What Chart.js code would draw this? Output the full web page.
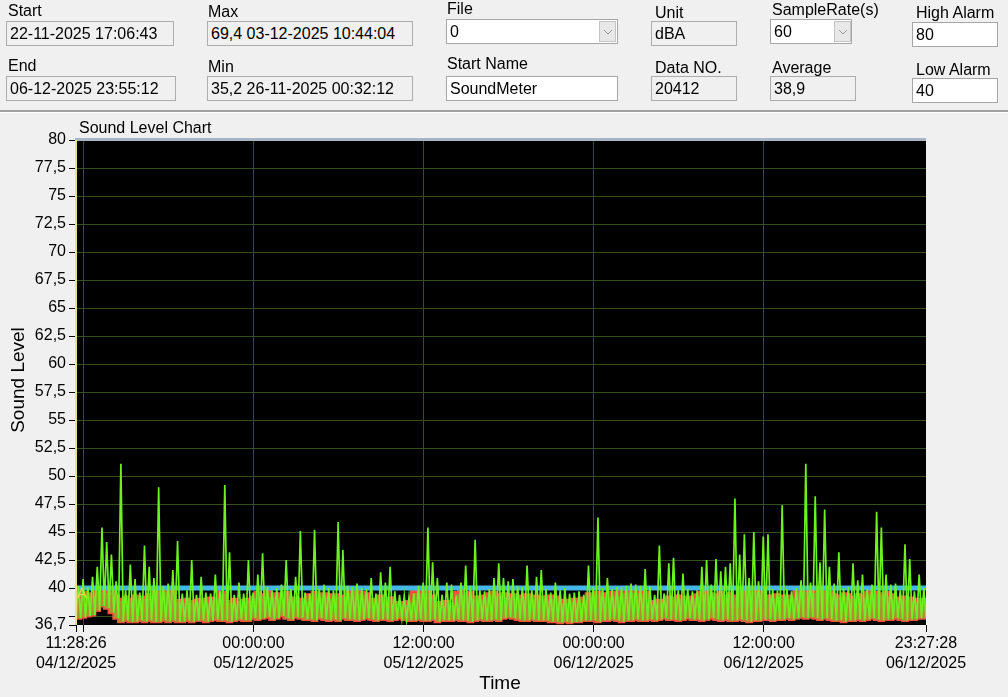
<!DOCTYPE html>
<html><head><meta charset="utf-8">
<script src="https://cdn.jsdelivr.net/npm/chart.js@4.4.1/dist/chart.umd.min.js"></script>
<style>
html,body{margin:0;padding:0;background:#f0f0f0;width:1008px;height:697px;overflow:hidden;font-family:"Liberation Sans",Arial,sans-serif;}
canvas{position:absolute;left:0;top:0;}
.lbl{position:absolute;font-size:16px;line-height:16px;color:#000;white-space:nowrap;}
.box{position:absolute;box-sizing:border-box;border:1px solid #adadad;background:#f0f0f0;font-size:16px;line-height:23px;padding-left:3px;white-space:nowrap;color:#000;overflow:hidden;}
.white{background:#fff;border-color:#a6a6a6;}
.btn{position:absolute;box-sizing:border-box;background:#e8e8e8;border:1px solid #c4c4c4;}
.btn svg{position:absolute;left:3px;top:6px;}
#sep{position:absolute;left:0;top:110px;width:1008px;height:2px;background:#a0a0a0;border-bottom:1px solid #fff;}
</style></head>
<body>
<canvas id="c" width="1008" height="697"></canvas>

<div class="lbl" style="left:8px;top:3px">Start</div>
<div class="box" style="left:6px;top:21px;width:168px;height:25px">22-11-2025 17:06:43</div>
<div class="lbl" style="left:8px;top:58px">End</div>
<div class="box" style="left:6px;top:76px;width:170px;height:25px">06-12-2025 23:55:12</div>

<div class="lbl" style="left:208px;top:4px">Max</div>
<div class="box" style="left:207px;top:21px;width:206px;height:25px">69,4 03-12-2025 10:44:04</div>
<div class="lbl" style="left:208px;top:59px">Min</div>
<div class="box" style="left:207px;top:76px;width:206px;height:25px">35,2 26-11-2025 00:32:12</div>

<div class="lbl" style="left:447px;top:1px">File</div>
<div class="box white" style="left:446px;top:19px;width:172px;height:25px">0</div>
<div class="btn" style="left:599px;top:21px;width:17px;height:21px"><svg width="10" height="8"><polyline points="1,2 5,6 9,2" fill="none" stroke="#9a9a9a" stroke-width="1"/></svg></div>
<div class="lbl" style="left:447px;top:56px">Start Name</div>
<div class="box white" style="left:446px;top:76px;width:172px;height:25px">SoundMeter</div>

<div class="lbl" style="left:655px;top:5px">Unit</div>
<div class="box" style="left:651px;top:21px;width:86px;height:25px">dBA</div>
<div class="lbl" style="left:655px;top:60px">Data NO.</div>
<div class="box" style="left:651px;top:76px;width:86px;height:25px">20412</div>

<div class="lbl" style="left:772px;top:2px">SampleRate(s)</div>
<div class="box white" style="left:770px;top:19px;width:82px;height:25px">60</div>
<div class="btn" style="left:834px;top:21px;width:17px;height:21px"><svg width="10" height="8"><polyline points="1,2 5,6 9,2" fill="none" stroke="#9a9a9a" stroke-width="1"/></svg></div>
<div class="lbl" style="left:772px;top:60px">Average</div>
<div class="box" style="left:770px;top:76px;width:86px;height:25px">38,9</div>

<div class="lbl" style="left:916px;top:5px">High Alarm</div>
<div class="box white" style="left:912px;top:22px;width:86px;height:25px">80</div>
<div class="lbl" style="left:916px;top:62px">Low Alarm</div>
<div class="box white" style="left:912px;top:78px;width:86px;height:25px">40</div>

<div id="sep"></div>

<script>
// ---- data (20-minute bins, starting 04/12/2025 11:28:26) ----
const BIN_HOURS = 1/3;
const END_HOURS = 59.9839;           // 23:27:28 06/12/2025
const LOW_ALARM = 40;

// green peak level in each bin (dB)
const levelMax = [
 40.2,40.8,40.1,41.0,41.9,45.4,44.1,43.0,40.6,51.1,
 39.8,42.1,40.8,39.6,43.8,41.9,40.9,49.0,40.2,40.4,
 41.6,44.2,39.5,39.8,42.5,39.4,41.0,39.6,39.5,41.2,
 39.7,49.2,43.2,39.4,40.5,39.5,42.5,39.6,41.2,43.1,
 40.1,39.8,40.0,40.3,42.5,39.9,41.0,45.1,39.6,39.5,
 45.2,39.9,40.3,40.0,39.8,45.9,43.4,40.2,40.1,40.4,
 40.0,39.9,40.9,39.5,41.4,40.5,41.9,39.7,39.4,39.3,
 39.2,39.5,40.2,40.5,45.4,42.3,40.9,39.4,40.5,40.3,
 39.3,40.5,42.0,40.2,44.3,39.8,39.7,39.9,40.9,42.2,
 40.9,40.6,40.8,40.2,40.1,42.0,39.8,41.0,41.6,39.9,
 39.6,40.5,39.8,40.0,39.5,39.6,39.7,39.4,42.0,40.1,
 46.3,40.0,40.9,39.9,40.1,40.1,40.2,40.4,40.3,40.2,
 41.7,40.1,39.4,43.8,39.5,42.2,42.7,39.8,41.3,39.9,
 39.7,39.8,41.9,42.5,40.3,42.6,41.5,41.9,42.2,48.0,
 43.0,44.8,40.9,45.0,40.6,44.6,44.8,39.9,39.8,47.4,
 39.9,39.7,40.0,40.7,51.1,40.5,48.2,42.3,47.0,41.9,
 40.4,43.2,40.0,40.1,42.2,40.7,41.2,39.9,40.3,46.8,
 45.4,41.2,40.3,40.4,39.8,43.9,42.6,39.7,41.2,40.0
];
// upper edge of the dense band in each bin (dB)
const levelTop = [
 39.8,39.8,39.6,39.5,39.4,39.8,39.8,39.7,39.8,39.3,
 39.0,39.2,39.0,39.3,39.1,39.2,39.4,39.9,40.0,39.8,
 39.9,39.9,38.9,38.8,39.0,38.8,38.9,39.0,38.8,39.1,
 39.1,39.8,39.6,38.8,39.0,38.7,38.9,39.0,39.2,39.6,
 39.4,39.7,39.3,39.5,39.2,39.6,39.0,39.1,39.0,38.9,
 39.4,39.6,39.3,39.5,39.4,39.2,39.4,39.3,39.7,40.0,
 39.9,39.6,39.5,39.0,38.8,39.3,38.9,39.1,38.7,38.7,
 38.6,38.8,39.7,39.8,39.6,39.7,39.3,38.7,38.5,38.8,
 38.6,39.6,39.7,39.5,39.6,39.2,39.1,39.3,39.5,39.6,
 39.4,39.5,39.3,39.4,39.3,39.2,39.4,39.1,39.3,39.2,
 39.0,39.3,39.2,38.9,38.8,38.9,39.0,38.8,39.1,39.5,
 39.4,39.6,39.5,39.3,39.6,39.4,39.7,39.9,39.8,39.7,
 39.9,39.6,38.8,38.7,38.9,38.8,39.2,39.1,39.3,39.2,
 39.0,39.2,39.4,39.6,39.7,39.5,39.4,39.6,39.3,39.5,
 39.3,39.9,40.0,39.9,39.8,39.9,40.0,39.3,39.2,39.4,
 39.3,39.1,39.3,39.8,39.9,39.8,40.0,39.7,39.8,39.9,
 39.7,39.4,39.3,39.5,39.4,39.2,39.4,39.3,39.6,39.7,
 39.6,39.5,39.6,39.4,39.1,39.0,39.2,39.1,38.9,39.0
];
// lowest level in each bin (dB)
const levelMin = [
 37.4,37.3,37.4,37.5,37.6,38.0,38.4,38.2,37.8,37.3,
 37.0,37.1,37.0,37.0,37.1,37.0,37.1,37.0,37.0,37.1,
 37.0,37.1,37.0,37.0,37.1,37.0,37.1,37.1,37.0,37.1,
 37.2,37.1,37.1,37.0,37.1,37.2,37.1,37.1,37.3,37.2,
 37.3,37.4,37.2,37.3,37.5,37.3,37.2,37.4,37.3,37.2,
 37.2,37.1,37.3,37.2,37.1,37.2,37.1,37.3,37.2,37.2,
 37.1,37.2,37.3,37.2,37.1,37.2,37.2,37.1,37.2,37.3,
 37.2,37.1,37.1,37.2,37.1,37.1,37.2,37.0,37.1,37.1,
 37.1,37.2,37.1,37.1,37.0,37.1,37.2,37.1,37.1,37.2,
 37.1,37.3,37.4,37.3,37.2,37.1,37.1,37.2,37.1,37.1,
 37.1,37.0,37.0,36.9,37.0,36.9,37.0,37.0,37.1,37.1,
 37.1,37.0,37.1,37.1,37.2,37.1,37.0,37.1,37.1,37.2,
 37.1,37.1,37.2,37.1,37.2,37.3,37.2,37.2,37.1,37.2,
 37.3,37.2,37.2,37.1,37.2,37.3,37.2,37.1,37.2,37.1,
 37.1,37.2,37.1,37.0,37.1,37.1,37.2,37.2,37.1,37.2,
 37.2,37.3,37.2,37.3,37.4,37.3,37.4,37.3,37.2,37.3,
 37.2,37.1,37.1,37.0,37.1,37.1,37.2,37.1,37.2,37.3,
 37.2,37.1,37.2,37.2,37.3,37.2,37.1,37.2,37.2,37.3
];

// axis ticks
const yTicks = [36.7,37.5,40,42.5,45,47.5,50,52.5,55,57.5,60,62.5,65,67.5,70,72.5,75,77.5,80];
const xTickHours = [0, 0.5261, 12.5261, 24.5261, 36.5261, 48.5261, END_HOURS];
const xTickLabels = [
 ["11:28:26","04/12/2025"], "",
 ["00:00:00","05/12/2025"], ["12:00:00","05/12/2025"],
 ["00:00:00","06/12/2025"], ["12:00:00","06/12/2025"],
 ["23:27:28","06/12/2025"]
];

// ---- build library tables ----
const greenPts = [];
levelMax.forEach((v,i)=>{
  greenPts.push({x:i*BIN_HOURS, y:levelMin[i]});
  greenPts.push({x:i*BIN_HOURS + BIN_HOURS/2, y:v});
});
greenPts.push({x:END_HOURS, y:levelMin[levelMin.length-1]});
const topPts = levelTop.map((v,i)=>({x:i*BIN_HOURS, y:v}));
topPts.push({x:END_HOURS, y:levelTop[levelTop.length-1]});
const botPts = levelMin.map((v,i)=>({x:i*BIN_HOURS, y:v}));
botPts.push({x:END_HOURS, y:levelMin[levelMin.length-1]});

const FONT = "Liberation Sans";
const decor = {
  id:'decor',
  beforeDraw(chart){
    const {ctx, chartArea:a} = chart;
    ctx.save(); ctx.fillStyle='#000';
    ctx.fillRect(a.left,a.top,a.right-a.left,a.bottom-a.top);
    ctx.restore();
  },
  afterDraw(chart){
    const {ctx, chartArea:a} = chart;
    ctx.save();
    ctx.fillStyle='#a9b5c7';
    ctx.fillRect(a.left-1, a.top-2, a.right-a.left+1, 3);
    ctx.fillStyle='#e6e680';
    ctx.fillRect(a.left-1, a.top, 2, a.bottom-a.top);
    ctx.fillStyle='#e8d850';
    ctx.font = '15px "'+FONT+'"';
    ctx.textBaseline='alphabetic'; ctx.textAlign='left';
    ctx.fillText('A', a.left+1, a.top+458);
    ctx.fillStyle='#000';
    ctx.font = '16px "'+FONT+'"';
    ctx.fillText('Sound Level Chart', 79, 133);
    ctx.font = '19px "'+FONT+'"';
    ctx.textAlign='center'; ctx.textBaseline='middle';
    ctx.fillText('Time', 500, 684);
    ctx.translate(19, 380); ctx.rotate(-Math.PI/2);
    ctx.fillText('Sound Level', 0, 0);
    ctx.restore();
  }
};

new Chart(document.getElementById('c'), {
  type:'line',
  data:{datasets:[
    {label:'Sound Level', data:greenPts, borderColor:'#6cf21e', borderWidth:1.7, pointRadius:0, tension:0, order:0},
    {label:'Low Alarm', data:[{x:0,y:LOW_ALARM},{x:END_HOURS,y:LOW_ALARM}], borderColor:'#45b6e8', borderWidth:5, pointRadius:0, order:1},
    {label:'Band top', data:topPts, borderColor:'#f0503c', borderWidth:3, pointRadius:0, stepped:'after', fill:3, backgroundColor:'#ae8f34', order:2},
    {label:'Band bottom', data:botPts, borderColor:'#f0503c', borderWidth:3, pointRadius:0, stepped:'after', fill:false, order:3}
  ]},
  options:{
    responsive:false, animation:false, devicePixelRatio:1,
    layout:{padding:{top:140,right:82,left:0,bottom:0}},
    plugins:{legend:{display:false}, tooltip:{enabled:false}, title:{display:false}},
    scales:{
      x:{type:'linear', min:0, max:END_HOURS,
        afterFit(s){ s.height = 72; },
        afterBuildTicks(s){ s.ticks = xTickHours.map(v=>({value:v})); },
        border:{display:false},
        grid:{color:(c)=> (c.index===0 || c.index===xTickHours.length-1) ? 'rgba(0,0,0,0)' : '#34501f', lineWidth:1, tickLength:7, tickColor:'#000', drawTicks:true},
        ticks:{autoSkip:false, maxRotation:0, minRotation:0, padding:2, color:'#000',
          font:{family:FONT, size:16, lineHeight:1.25},
          callback:(v,i)=> xTickLabels[i]}
      },
      y:{type:'linear', min:36.7, max:80,
        afterFit(s){ s.width = 76; },
        afterBuildTicks(s){ s.ticks = yTicks.map(v=>({value:v})); },
        border:{display:false},
        grid:{color:(c)=> c.index===0 ? 'rgba(0,0,0,0)' : '#34501f', lineWidth:1, tickLength:7, tickColor:'#000'},
        ticks:{autoSkip:false, padding:3, color:'#000', font:{family:FONT, size:16},
          callback:(v)=> v===37.5 ? '' : String(v).replace('.',',')}
      }
    }
  },
  plugins:[decor]
});
</script>
</body></html>
